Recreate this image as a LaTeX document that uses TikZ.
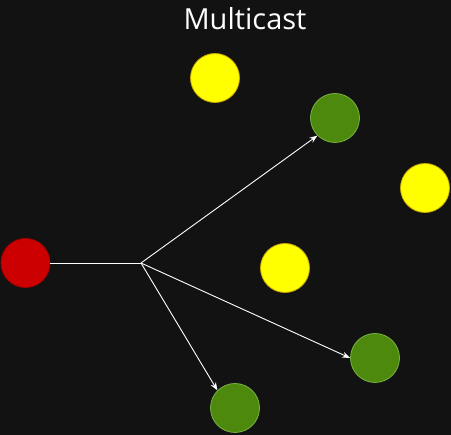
\documentclass[tikz,border=0pt]{standalone}
\usepackage{fontspec}
\setmainfont{Open Sans}
\usetikzlibrary{arrows.meta}
\definecolor{bg}{HTML}{121212}
\definecolor{redf}{HTML}{CC0000}
\definecolor{redd}{HTML}{A50000}
\definecolor{yelf}{HTML}{FFFF00}
\definecolor{yeld}{HTML}{C8A800}
\definecolor{grnf}{HTML}{4C890C}
\definecolor{grnd}{HTML}{78B244}
\begin{document}
\begin{tikzpicture}[x=1pt,y=-1pt,
  dot/.style={circle,minimum size=49pt,inner sep=0pt,line width=0.8pt},
  reddot/.style={dot,fill=redf,draw=redd},
  yeldot/.style={dot,fill=yelf,draw=yeld},
  grndot/.style={dot,fill=grnf,draw=grnd},
  wire/.style={white,line width=0.9pt},
  arr/.style={wire,-{Stealth[length=8pt,width=6pt]},shorten >=0pt}]
\fill[bg] (0,0) rectangle (451,435);
\useasboundingbox (0,0) rectangle (451,435);
\node[text=white,font=\fontsize{29}{34}\selectfont,anchor=base] (title) at (245,30) {Multicast};
\node[reddot] (r) at (25.5,263) {};
\node[yeldot] (y1) at (215,78) {};
\node[yeldot] (y2) at (425,188) {};
\node[yeldot] (y3) at (285,268) {};
\node[grndot] (g1) at (335,118) {};
\node[grndot] (g2) at (375,358) {};
\node[grndot] (g3) at (235,408) {};
\coordinate (j) at (141,263);
\draw[wire] (r.east) -- (j);
\draw[arr] (j) -- (g1.south west);
\draw[arr] (j) -- (g2.west);
\draw[arr] (j) -- (g3.north west);
\end{tikzpicture}
\end{document}
